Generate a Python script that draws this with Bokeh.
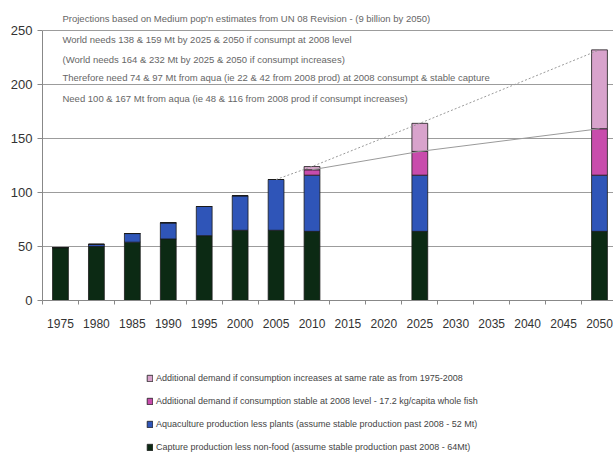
from bokeh.plotting import figure
from bokeh.models import ColumnDataSource, FixedTicker, Legend, LegendItem
from bokeh.layouts import column
from bokeh.core.properties import value
from bokeh.embed import file_html
from bokeh.resources import INLINE

years = [1975, 1980, 1985, 1990, 1995, 2000, 2005, 2010, 2025, 2050]
capture = [49, 50, 54, 57, 60, 65, 65, 64, 64, 64]
aqua = [0, 2, 8, 15, 27, 32, 47, 52, 52, 52]
stable = [0, 0, 0, 0, 0, 0, 0, 5, 22, 43]
increase = [0, 0, 0, 0, 0, 0, 0, 3, 26, 73]

tick_years = list(range(1975, 2051, 5))
y_ticks = [0, 50, 100, 150, 200, 250]

trend_up_x = [2005, 2010, 2025, 2050]
trend_up_y = [112, 124, 164, 232]
trend_stable_x = [2010, 2025, 2050]
trend_stable_y = [121, 138, 159]

notes = [
    "Projections based on Medium pop'n estimates from UN 08 Revision - (9 billion by 2050)",
    "World needs 138 & 159 Mt by 2025 & 2050 if consumpt at 2008 level",
    "(World needs 164 & 232 Mt by 2025 & 2050 if consumpt increases)",
    "Therefore need 74 & 97 Mt from aqua (ie 22 & 42 from 2008 prod) at 2008 consumpt & stable capture",
    "Need 100 & 167 Mt from aqua (ie 48 & 116 from 2008 prod if consumpt increases)",
]
note_y = [261, 241.5, 223, 206, 187]

labels = [
    "Additional demand if consumption increases at same rate as from 1975-2008",
    "Additional demand if consumption stable at 2008 level - 17.2 kg/capita whole fish",
    "Aquaculture production less plants (assume stable production past 2008 - 52 Mt)",
    "Capture production less non-food (assume stable production past 2008 - 64Mt)",
]
colors = ["#0c2a14", "#2f55b8", "#c84cac", "#d8a3cc"]

FONT = "Liberation Sans"

src = ColumnDataSource(dict(years=years, capture=capture, aqua=aqua,
                            stable=stable, increase=increase))

p = figure(width=613, height=340, output_backend="svg", toolbar_location=None,
           x_range=(1972.5, 2051.95), y_range=(0, 274),
           min_border_left=42, min_border_right=0, min_border_top=4,
           min_border_bottom=40)
p.outline_line_color = None

rs = p.vbar_stack(["capture", "aqua", "stable", "increase"], x="years", width=2.2,
                  source=src, color=colors,
                  line_color="#1a1a1a", line_width=0.8)

p.line(trend_up_x, trend_up_y, line_color="#9a9a9a", line_width=1, line_dash="2 2")
p.line(trend_stable_x, trend_stable_y, line_color="#9a9a9a", line_width=1)

p.text(x=[1975.28] * len(notes), y=note_y, text=notes, text_font=value(FONT),
       text_font_size="9.5px", text_color="#666666", text_baseline="middle")

p.xaxis.ticker = FixedTicker(ticks=tick_years,
                             minor_ticks=[t - 2.5 for t in tick_years] + [2052.5])
p.xaxis.major_tick_line_color = None
p.xaxis.minor_tick_in = 0
p.xaxis.minor_tick_out = 4
p.xaxis.minor_tick_line_color = "#888888"
p.xaxis.axis_line_color = "#888888"
p.xaxis.major_label_text_font = FONT
p.xaxis.major_label_text_font_size = "12px"
p.xaxis.major_label_text_color = "#333333"
p.xaxis.major_label_standoff = 12

p.yaxis.ticker = FixedTicker(ticks=y_ticks)
p.yaxis.bounds = (0, 250)
p.yaxis.minor_tick_line_color = None
p.yaxis.major_tick_in = 0
p.yaxis.major_tick_out = 5
p.yaxis.major_tick_line_color = "#888888"
p.yaxis.axis_line_color = "#888888"
p.yaxis.major_label_text_font = FONT
p.yaxis.major_label_text_font_size = "13px"
p.yaxis.major_label_text_color = "#333333"
p.yaxis.major_label_standoff = 5

p.xgrid.grid_line_color = None
p.ygrid.grid_line_color = "#9c9c9c"
p.ygrid.grid_line_width = 1

# legend panel below the chart
p2 = figure(width=613, height=120, output_backend="svg", toolbar_location=None,
            x_range=(0, 1), y_range=(0, 1), x_axis_location=None,
            y_axis_location=None, min_border=0)
p2.outline_line_color = None
p2.grid.grid_line_color = None
leg_r = [p2.vbar(x=[10], top=[1], width=0.1, color=c, line_color="#1a1a1a",
                 line_width=0.8) for c in colors]

items = [LegendItem(label=labels[i], renderers=[leg_r[3 - i]]) for i in range(4)]
legend = Legend(items=items, location=(104, 8), orientation="vertical",
                glyph_width=7, glyph_height=8, label_height=8, spacing=13,
                label_standoff=3, padding=1, margin=0,
                label_text_font=FONT, label_text_font_size="9px",
                label_text_color="#444444",
                background_fill_alpha=0, border_line_color=None)
p2.add_layout(legend)

layout = column(p, p2, spacing=0)
open("out.html", "w").write(file_html(layout, INLINE))
